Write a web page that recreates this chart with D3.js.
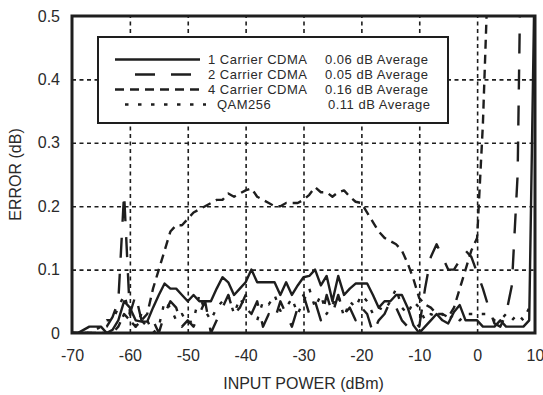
<!DOCTYPE html>
<html>
<head>
<meta charset="utf-8">
<script src="https://cdn.jsdelivr.net/npm/d3@7"></script>
<style>
  body { margin: 0; background: #fff; }
  svg { font-family: "Liberation Sans", Arial, sans-serif; }
</style>
</head>
<body>
<div id="chart"></div>
<script>
// input power in dBm, one point per dB
const inputPower = d3.range(-70, 11);

const carrier1 = [
  0, 0, 0.005, 0.01, 0.01, 0.01, 0, 0.005, 0.02, 0.05,
  0.04, 0.02, 0.018, 0.018, 0.04, 0.06, 0.078, 0.07, 0.07, 0.06,
  0.05, 0.06, 0.05, 0.05, 0.05, 0.07, 0.088, 0.08, 0.06, 0.07,
  0.08, 0.1, 0.08, 0.08, 0.08, 0.08, 0.06, 0.08, 0.06, 0.075,
  0.088, 0.09, 0.1, 0.075, 0.09, 0.05, 0.09, 0.06, 0.07, 0.078,
  0.078, 0.078, 0.06, 0.04, 0.05, 0.05, 0.06, 0.06, 0.04, 0.012,
  0, 0.01, 0.02, 0.03, 0.02, 0.015, 0.033, 0.044, 0.02, 0.02,
  0.02, 0.01, 0.01, 0.01, 0.02, 0.01, 0.01, 0.01, 0.01, 0.02,
  0.6
];

const carrier2 = [
  0, 0, 0, 0, 0, 0.005, 0.01, 0.025, 0.05, 0.22,
  0.03, 0.06, 0.02, 0.01, 0.02, 0, 0.03, 0.05, 0.04, 0.01,
  0.02, 0.01, 0.03, 0.05, 0, 0.02, 0.04, 0.06, 0.03, 0.04,
  0.06, 0.03, 0.05, 0.01, 0.03, 0.02, 0.05, 0.03, 0.01, 0.04,
  0.06, 0.03, 0.05, 0.02, 0.06, 0.03, 0.06, 0.03, 0.04, 0.02,
  0.04, 0.03, 0, 0.02, 0.03, 0.05, 0.04, 0.02, 0.01, 0.02,
  0.01, 0.07, 0.12, 0.14, 0.12, 0.1, 0.1, 0.115, 0.13, 0.12,
  0.095, 0.07, 0.04, 0.015, 0.01, 0.03, 0.075, 0.25, 0.9, 0.9,
  0.9
];

const carrier4 = [
  0, 0, 0, 0, 0, 0, 0, 0, 0.01, 0.03,
  0.02, 0.01, 0.02, 0.03, 0.07, 0.1, 0.13, 0.16, 0.17, 0.17,
  0.18, 0.19, 0.195, 0.2, 0.205, 0.21, 0.21, 0.22, 0.215, 0.22,
  0.225, 0.228, 0.215, 0.21, 0.205, 0.2, 0.2, 0.205, 0.205, 0.205,
  0.21, 0.218, 0.23, 0.222, 0.222, 0.215, 0.222, 0.225, 0.215, 0.207,
  0.205, 0.19, 0.175, 0.16, 0.15, 0.145, 0.14, 0.13, 0.11, 0.085,
  0.055, 0.045, 0.04, 0.03, 0.03, 0.025, 0.04, 0.07, 0.1, 0.13,
  0.15, 0.33, 0.6, 0.8, 0.8, 0.8, 0.8, 0.8, 0.8, 0.8,
  0.8
];

const qam256 = [
  0, 0, 0, 0, 0.005, 0.01, 0.02, 0.02, 0.04, 0.06,
  0.03, 0.01, 0.03, 0.02, 0, 0.01, 0.05, 0.04, 0.02, 0.03,
  0.015, 0.02, 0.06, 0.035, 0.02, 0.04, 0.05, 0.06, 0.03, 0.055,
  0.04, 0.03, 0.02, 0.05, 0.045, 0.06, 0.035, 0.04, 0.055, 0.03,
  0.05, 0.07, 0.04, 0.06, 0.03, 0.045, 0.06, 0.025, 0.05, 0.04,
  0.06, 0.05, 0.03, 0.04, 0.035, 0.05, 0.07, 0.04, 0.03, 0.05,
  0.04, 0.02, 0.03, 0.025, 0.03, 0.02, 0.03, 0.02, 0.03, 0.03,
  0.03, 0.03, 0.03, 0.02, 0.02, 0.03, 0.02, 0.03, 0.02, 0.04,
  0.05
];

const seriesNames = ["1 Carrier CDMA", "2 Carrier CDMA", "4 Carrier CDMA", "QAM256"];
const seriesAverages = ["0.06 dB Average", "0.05 dB Average", "0.16 dB Average", "0.11 dB Average"];
const xTicks = [-70, -60, -50, -40, -30, -20, -10, 0, 10];
const yTicks = [0, 0.1, 0.2, 0.3, 0.4, 0.5];

const width = 543, height = 395;
const margin = { top: 16, right: 8, bottom: 62, left: 72 };
const plotW = width - margin.left - margin.right;
const plotH = height - margin.top - margin.bottom;
const ink = "#1e1e1e";
const labelInk = "#2a2a2a";
const labelFont = "16px";

const svg = d3.select("#chart").append("svg")
  .attr("width", width)
  .attr("height", height);

const g = svg.append("g")
  .attr("transform", `translate(${margin.left},${margin.top})`);

const x = d3.scaleLinear().domain([-70, 10]).range([0, plotW]);
const y = d3.scaleLinear().domain([0, 0.5]).range([plotH, 0]);

// grid
g.append("g")
  .attr("transform", `translate(0,${plotH})`)
  .call(d3.axisBottom(x).tickValues(xTicks.slice(1, -1)).tickSize(-plotH).tickFormat(""))
  .call(a => a.select(".domain").remove())
  .call(a => a.selectAll("line").attr("stroke", ink).attr("stroke-width", 1.6).attr("stroke-dasharray", "4,3.5"));

g.append("g")
  .call(d3.axisLeft(y).tickValues(yTicks.slice(1, -1)).tickSize(-plotW).tickFormat(""))
  .call(a => a.select(".domain").remove())
  .call(a => a.selectAll("line").attr("stroke", ink).attr("stroke-width", 1.6).attr("stroke-dasharray", "4,3.5"));

// tick labels (plain hyphen for negatives, as in the original)
g.append("g")
  .attr("transform", `translate(0,${plotH})`)
  .call(d3.axisBottom(x).tickValues(xTicks).tickSize(0).tickPadding(17).tickFormat(d => String(d)))
  .call(a => a.select(".domain").remove())
  .call(a => a.selectAll("text").attr("fill", labelInk).style("font-size", labelFont).style("font-family", "Liberation Sans, Arial, sans-serif"));

g.append("g")
  .call(d3.axisLeft(y).tickValues(yTicks).tickSize(0).tickPadding(12).tickFormat(d => d === 0 ? "0" : d3.format(".1f")(d)))
  .call(a => a.select(".domain").remove())
  .call(a => a.selectAll("text").attr("fill", labelInk).style("font-size", labelFont).style("font-family", "Liberation Sans, Arial, sans-serif"));

// axis titles
svg.append("text")
  .attr("x", margin.left + plotW / 2)
  .attr("y", 389)
  .attr("text-anchor", "middle")
  .attr("fill", labelInk)
  .style("font-size", labelFont)
  .text("INPUT POWER (dBm)");

svg.append("text")
  .attr("transform", `translate(21,${margin.top + plotH / 2}) rotate(-90)`)
  .attr("text-anchor", "middle")
  .attr("fill", labelInk)
  .style("font-size", labelFont)
  .text("ERROR (dB)");

// curves
svg.append("defs").append("clipPath").attr("id", "plot-clip")
  .append("rect").attr("width", plotW).attr("height", plotH);

const line = d3.line()
  .x((d, i) => x(inputPower[i]))
  .y(d => y(d));

const curves = [
  { values: carrier1, dash: null },
  { values: carrier2, dash: "20,16" },
  { values: carrier4, dash: "9,6" },
  { values: qam256, dash: "3.5,9.5" }
];

const curveLayer = g.append("g").attr("clip-path", "url(#plot-clip)");
curves.forEach(c => {
  curveLayer.append("path")
    .datum(c.values)
    .attr("d", line)
    .attr("fill", "none")
    .attr("stroke", ink)
    .attr("stroke-width", 2.4)
    .attr("stroke-linejoin", "round")
    .attr("stroke-dasharray", c.dash);
});

// frame
g.append("rect")
  .attr("width", plotW)
  .attr("height", plotH)
  .attr("fill", "none")
  .attr("stroke", ink)
  .attr("stroke-width", 3);

// legend
const legend = svg.append("g");
legend.append("rect")
  .attr("x", 98).attr("y", 37)
  .attr("width", 350).attr("height", 86)
  .attr("fill", "#fff")
  .attr("stroke", ink)
  .attr("stroke-width", 2);

const legendRows = [59.5, 74.5, 89.5, 104.5];
const sampleX = [[115, 200], [135, 196], [115, 203], [125, 206]];
const nameX = [208, 208, 208, 217];
const avgX = [325, 325, 325, 328];

legendRows.forEach((ly, i) => {
  legend.append("line")
    .attr("x1", sampleX[i][0]).attr("x2", sampleX[i][1])
    .attr("y1", ly).attr("y2", ly)
    .attr("stroke", ink)
    .attr("stroke-width", 2.6)
    .attr("stroke-dasharray", curves[i].dash);
  legend.append("text")
    .attr("x", nameX[i]).attr("y", ly + 4.5)
    .attr("fill", labelInk)
    .style("font-size", "13px")
    .style("letter-spacing", "0.5px")
    .text(seriesNames[i]);
  legend.append("text")
    .attr("x", avgX[i]).attr("y", ly + 4.5)
    .attr("fill", labelInk)
    .style("font-size", "13px")
    .style("letter-spacing", "0.5px")
    .text(seriesAverages[i]);
});
</script>
</body>
</html>
